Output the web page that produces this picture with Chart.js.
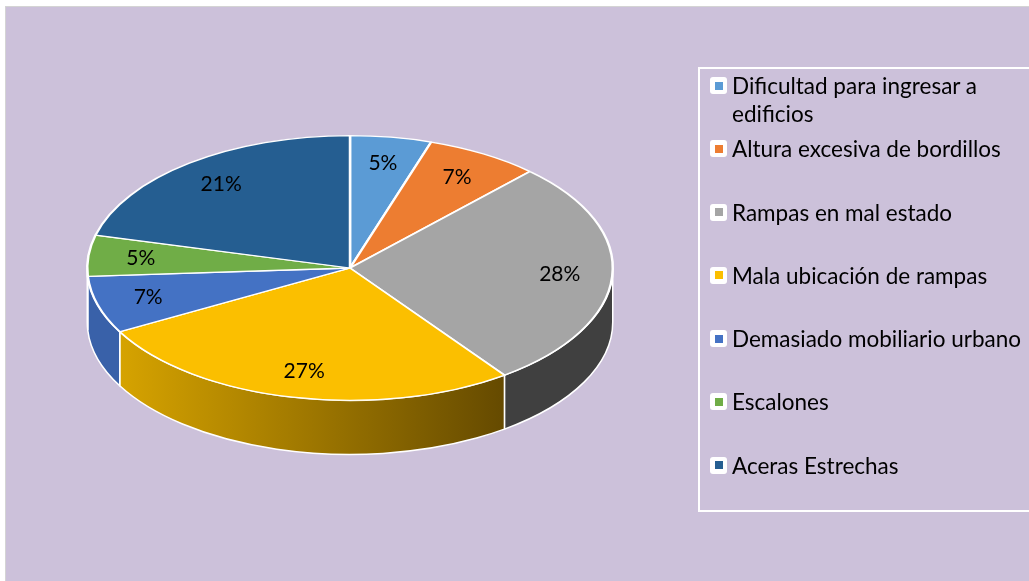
<!DOCTYPE html>
<html>
<head>
  <meta charset="utf-8">
  <script src="https://cdn.jsdelivr.net/npm/chart.js@4.4.1/dist/chart.umd.min.js"></script>
  <style>
    html, body { margin: 0; padding: 0; background: #fff; overflow: hidden; width: 1029px; height: 581px; }
    #panel { position: absolute; left: 5px; top: 6px; width: 1100px; height: 700px; background: #CCC1DA; border: 1px solid #D4D4D4; }
    #pie { position: absolute; left: 0; top: 0; }
    #legend { position: absolute; left: 698px; top: 67px; width: 400px; height: 441px; border: 2px solid #fff; margin: 0; padding: 0; list-style: none; }
    #legend li { position: relative; height: 63.3px; font-family: Lato, "Open Sans", sans-serif; font-size: 22.5px; line-height: 28px; color: #000; padding-left: 32px; box-sizing: border-box; }
    #legend li:first-child { margin-top: 3px; }
    #legend .box { position: absolute; left: 10px; top: 5px; width: 17px; height: 17px; background: #fff; border-radius: 3px; }
    #legend .box span { position: absolute; left: 4.5px; top: 4.5px; width: 8px; height: 8px; }
    #legend .txt { display: block; width: 305px; }
  </style>
</head>
<body>
<div id="panel"></div>
<canvas id="pie" width="700" height="581"></canvas>
<ul id="legend"></ul>

<script>
  // data
  const labels = ['Dificultad para ingresar a edificios', 'Altura excesiva de bordillos', 'Rampas en mal estado',
                  'Mala ubicación de rampas', 'Demasiado mobiliario urbano', 'Escalones', 'Aceras Estrechas'];
  const values = [5, 7, 28, 27, 7, 5, 21];

  // styles
  const topColors  = ['#5B9BD5', '#ED7D31', '#A5A5A5', '#FBBF00', '#4472C4', '#70AD47', '#255E91'];
  const sideColors = ['#4A82B8', '#C8652A', '#404040', null, '#3961A9', '#5E9339', '#1E4E79'];
  const squash = 0.504;
  const depth = 54;

  function wall(ctx, cx, cy, rx, ry, a, b, fill) {
    ctx.beginPath();
    ctx.ellipse(cx, cy, rx, ry, 0, a, b, false);
    ctx.lineTo(cx + rx * Math.cos(b), cy + ry * Math.sin(b) + depth);
    ctx.ellipse(cx, cy + depth, rx, ry, 0, b, a, true);
    ctx.closePath();
    ctx.fillStyle = fill;
    ctx.fill();
    ctx.lineWidth = 1.5;
    ctx.strokeStyle = '#fff';
    ctx.stroke();
  }

  const pie3d = {
    id: 'pie3d',
    beforeDatasetsDraw(chart) {
      const ctx = chart.ctx;
      const arcs = chart.getDatasetMeta(0).data;
      const cx = arcs[0].x, cy = arcs[0].y, r = arcs[0].outerRadius;
      const ry = r * squash;
      arcs.forEach((arc, i) => {
        const a = Math.max(arc.startAngle, 0);
        const b = Math.min(arc.endAngle, Math.PI);
        if (b <= a) return;
        let fill = sideColors[i];
        if (!fill) {
          const x0 = cx + r * Math.cos(b), x1 = cx + r * Math.cos(a);
          const g = ctx.createLinearGradient(x0, 0, x1, 0);
          g.addColorStop(0, '#D6A300');
          g.addColorStop(1, '#654A00');
          fill = g;
        }
        wall(ctx, cx, cy, r, ry, a, b, fill);
      });
      ctx.save();
      ctx.translate(cx, cy);
      ctx.scale(1, squash);
      ctx.translate(-cx, -cy);
    },
    afterDatasetsDraw(chart) {
      const ctx = chart.ctx;
      ctx.restore();
      const arcs = chart.getDatasetMeta(0).data;
      const total = values.reduce((s, v) => s + v, 0);
      ctx.save();
      ctx.font = '21px Lato, "Open Sans", sans-serif';
      ctx.fillStyle = '#000';
      ctx.textAlign = 'center';
      ctx.textBaseline = 'middle';
      arcs.forEach((arc, i) => {
        const m = (arc.startAngle + arc.endAngle) / 2;
        const rr = arc.outerRadius * 0.8;
        const x = arc.x + rr * Math.cos(m);
        const y = arc.y + rr * Math.sin(m) * squash;
        ctx.fillText(Math.round(values[i] / total * 100) + '%', x, y);
      });
      ctx.restore();
    }
  };

  new Chart(document.getElementById('pie'), {
    type: 'pie',
    data: {
      labels: labels,
      datasets: [{
        data: values,
        backgroundColor: topColors,
        borderColor: '#fff',
        borderWidth: 2.5
      }]
    },
    options: {
      responsive: false,
      animation: false,
      layout: { padding: { left: 85, right: 85, top: 4, bottom: 49 } },
      plugins: { legend: { display: false }, tooltip: { enabled: false } }
    },
    plugins: [pie3d]
  });

  // legend
  const ul = document.getElementById('legend');
  labels.forEach((lab, i) => {
    const li = document.createElement('li');
    li.innerHTML = '<span class="box"><span style="background:' + topColors[i] + '"></span></span><span class="txt">' + lab + '</span>';
    ul.appendChild(li);
  });
</script>
</body>
</html>
